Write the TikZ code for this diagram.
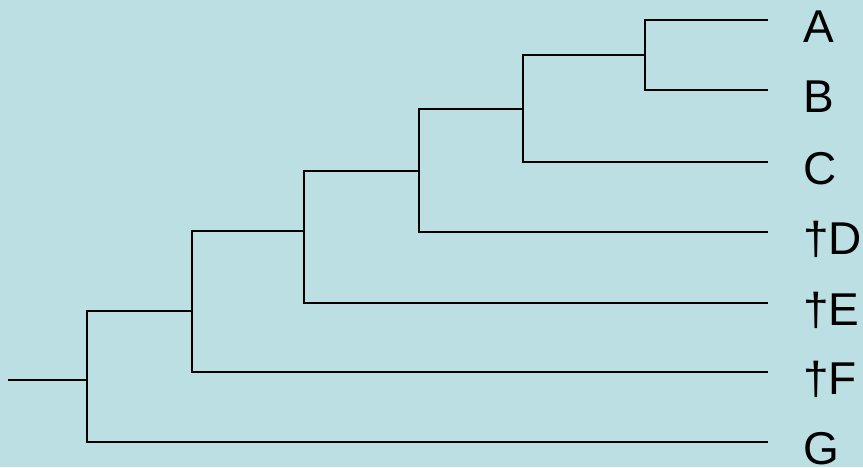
\documentclass[tikz,border=0pt]{standalone}
\usepackage{fontspec}
\setmainfont{Liberation Sans}
\definecolor{panel}{RGB}{187,223,226}

\begin{document}
\begin{tikzpicture}[x=1pt,y=-1pt,branch/.style={black,line width=1.2pt},taxon/.style={anchor=base west,inner sep=0pt,font=\fontsize{46}{46}\selectfont}]
	\fill[panel] (0,0) rectangle (863,467);
	\useasboundingbox (0,0) rectangle (863,467);
	\foreach \n / \y / \t in {a/20/A,b/90/B,c/162/C,d/232/†D,e/303/†E,f/372/†F,g/442/G} {
		\coordinate (\n) at (768,\y);
		\node[taxon] (\n-lab) at (803,\y+22) {\t};
	}
	\coordinate (ab) at (645,55);
	\coordinate (abc) at (523,109);
	\coordinate (abcd) at (419,171);
	\coordinate (abcde) at (304,231);
	\coordinate (abcdef) at (192,311);
	\coordinate (all) at (87,380);
	\coordinate (root) at (8,380);
	\draw[branch] (a) -| (ab) |- (b);
	\draw[branch] (ab) -| (abc) |- (c);
	\draw[branch] (abc) -| (abcd) |- (d);
	\draw[branch] (abcd) -| (abcde) |- (e);
	\draw[branch] (abcde) -| (abcdef) |- (f);
	\draw[branch] (abcdef) -| (all) |- (g);
	\draw[branch] (root) -- (all);
\end{tikzpicture}
\end{document}
